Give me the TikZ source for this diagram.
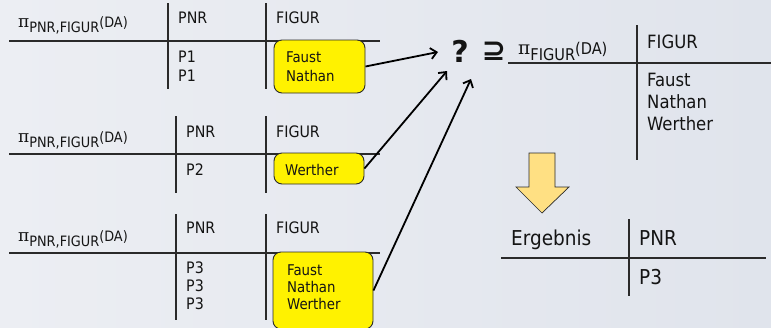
\documentclass[tikz,border=0pt]{standalone}
\usepackage{fontspec}
\setmainfont{DejaVu Sans Condensed}
\newfontfamily\pifont{DejaVu Serif}
\newfontfamily\symfont{DejaVu Sans}
\usetikzlibrary{arrows.meta}
\definecolor{bgA}{HTML}{ECEEF3}
\definecolor{bgB}{HTML}{E0E4EC}
\definecolor{ln}{HTML}{2A2A2A}
\definecolor{gold}{HTML}{FFE083}
\definecolor{txtc}{HTML}{141414}
\begin{document}
\begin{tikzpicture}[x=1pt,y=-1pt,
  rule/.style={draw=ln, line width=1.6pt},
  lt/.style={inner sep=0pt, anchor=west, text=txtc, text height=11.5pt, text depth=0pt, font=\fontsize{15.8}{18}\selectfont},
  yt/.style={inner sep=0pt, anchor=west, text=txtc, text height=10.8pt, text depth=0pt, font=\fontsize{14.8}{17}\selectfont},
  rt/.style={inner sep=0pt, anchor=west, text=txtc, text height=13.3pt, text depth=0pt, font=\fontsize{18.3}{21}\selectfont},
  et/.style={inner sep=0pt, anchor=west, text=txtc, text height=14.9pt, text depth=0pt, font=\fontsize{20.5}{24}\selectfont},
  lab/.style={inner sep=0pt, anchor=base west, text=txtc, font=\fontsize{14.3}{16}\selectfont},
  ybox/.style={draw=ln, line width=0.9pt, fill=yellow, rounded corners=8pt, inner sep=0pt},
  conn/.style={draw=black, line width=1.8pt, -{Straight Barb[length=6pt,width=11pt,line width=1.8pt]}}
]
\shade[left color=bgA, right color=bgB] (0,0) rectangle (771,327);
\useasboundingbox (0,0) rectangle (771,327);

% ---------- Table 1 ----------
\draw[rule] (9,41) -- (380,41);
\draw[rule] (168,3) -- (168,89);
\draw[rule] (266,3) -- (266,89);
\node[lab] (l1) at (18,27.5) {{\pifont\fontsize{17}{17}\selectfont π}\raisebox{-5pt}{PNR,FIGUR}(DA)};
\node[lt] (h1a) at (178,18) {PNR};
\node[lt] (h1b) at (276,18) {FIGUR};
\node[lt] (r1a) at (178,57) {P1};
\node[lt] (r1b) at (178,76) {P1};
\node[ybox, minimum width=91pt, minimum height=53pt] (b1) at (319.5,66.5) {};
\node[yt] (y1a) at (286,57) {Faust};
\node[yt] (y1b) at (286,76) {Nathan};

% ---------- Table 2 ----------
\draw[rule] (9,154) -- (380,154);
\draw[rule] (176,116) -- (176,193);
\draw[rule] (266,116) -- (266,193);
\node[lab] (l2) at (18,142) {{\pifont\fontsize{17}{17}\selectfont π}\raisebox{-5pt}{PNR,FIGUR}(DA)};
\node[lt] (h2a) at (186,132) {PNR};
\node[lt] (h2b) at (276,132) {FIGUR};
\node[lt] (r2a) at (186,170) {P2};
\node[ybox, minimum width=90pt, minimum height=31pt] (b2) at (319,168.5) {};
\node[yt] (y2a) at (285,170) {Werther};

% ---------- Table 3 ----------
\draw[rule] (9,253) -- (380,253);
\draw[rule] (176,214) -- (176,320);
\draw[rule] (266,214) -- (266,320);
\node[lab] (l3) at (18,241) {{\pifont\fontsize{17}{17}\selectfont π}\raisebox{-5pt}{PNR,FIGUR}(DA)};
\node[lt] (h3a) at (186,228) {PNR};
\node[lt] (h3b) at (276,228) {FIGUR};
\node[lt] (r3a) at (186,268) {P3};
\node[lt] (r3b) at (186,286) {P3};
\node[lt] (r3c) at (186,304) {P3};
\node[ybox, minimum width=100pt, minimum height=77pt] (b3) at (323,290.5) {};
\node[yt] (y3a) at (287,270) {Faust};
\node[yt] (y3b) at (287,287) {Nathan};
\node[yt] (y3c) at (287,304) {Werther};

% ---------- question / superset ----------
\node[inner sep=0pt, text=txtc, font=\symfont\fontsize{30}{30}\selectfont\bfseries] (q) at (460,51) {?};
\node[inner sep=0pt, text=txtc, font=\symfont\fontsize{29}{29}\selectfont\bfseries] (sup) at (494,51) {⊇};
\coordinate (t1) at (438,52);
\coordinate (t2) at (447,71);
\coordinate (t3) at (471,79);
\draw[conn] (b1.east) -- (t1);
\draw[conn] (b2.east) -- (t2);
\draw[conn] (b3.east) -- (t3);

% ---------- right table ----------
\draw[rule] (508,63) -- (771,63);
\draw[rule] (637,25) -- (637,160);
\node[lab, font=\fontsize{16.2}{18}\selectfont] (l4) at (518,54) {{\pifont\fontsize{18.5}{18.5}\selectfont π}\raisebox{-6pt}{FIGUR}(DA)};
\node[rt] (h4) at (647,42) {FIGUR};
\node[rt] (r4a) at (647,80) {Faust};
\node[rt] (r4b) at (647,102) {Nathan};
\node[rt] (r4c) at (647,124) {Werther};

% ---------- down arrow ----------
\draw[fill=gold, draw=ln, line width=0.7pt, line join=miter]
  (529,153) -- (555,153) -- (555,187) -- (569,187) -- (542,213) -- (516,187) -- (529,187) -- cycle;

% ---------- result table ----------
\draw[rule] (501,258) -- (766,258);
\draw[rule] (629,219) -- (629,296);
\node[et] (e1) at (511,238) {Ergebnis};
\node[et] (e2) at (639,238) {PNR};
\node[et] (e3) at (639,277) {P3};
\end{tikzpicture}
\end{document}
